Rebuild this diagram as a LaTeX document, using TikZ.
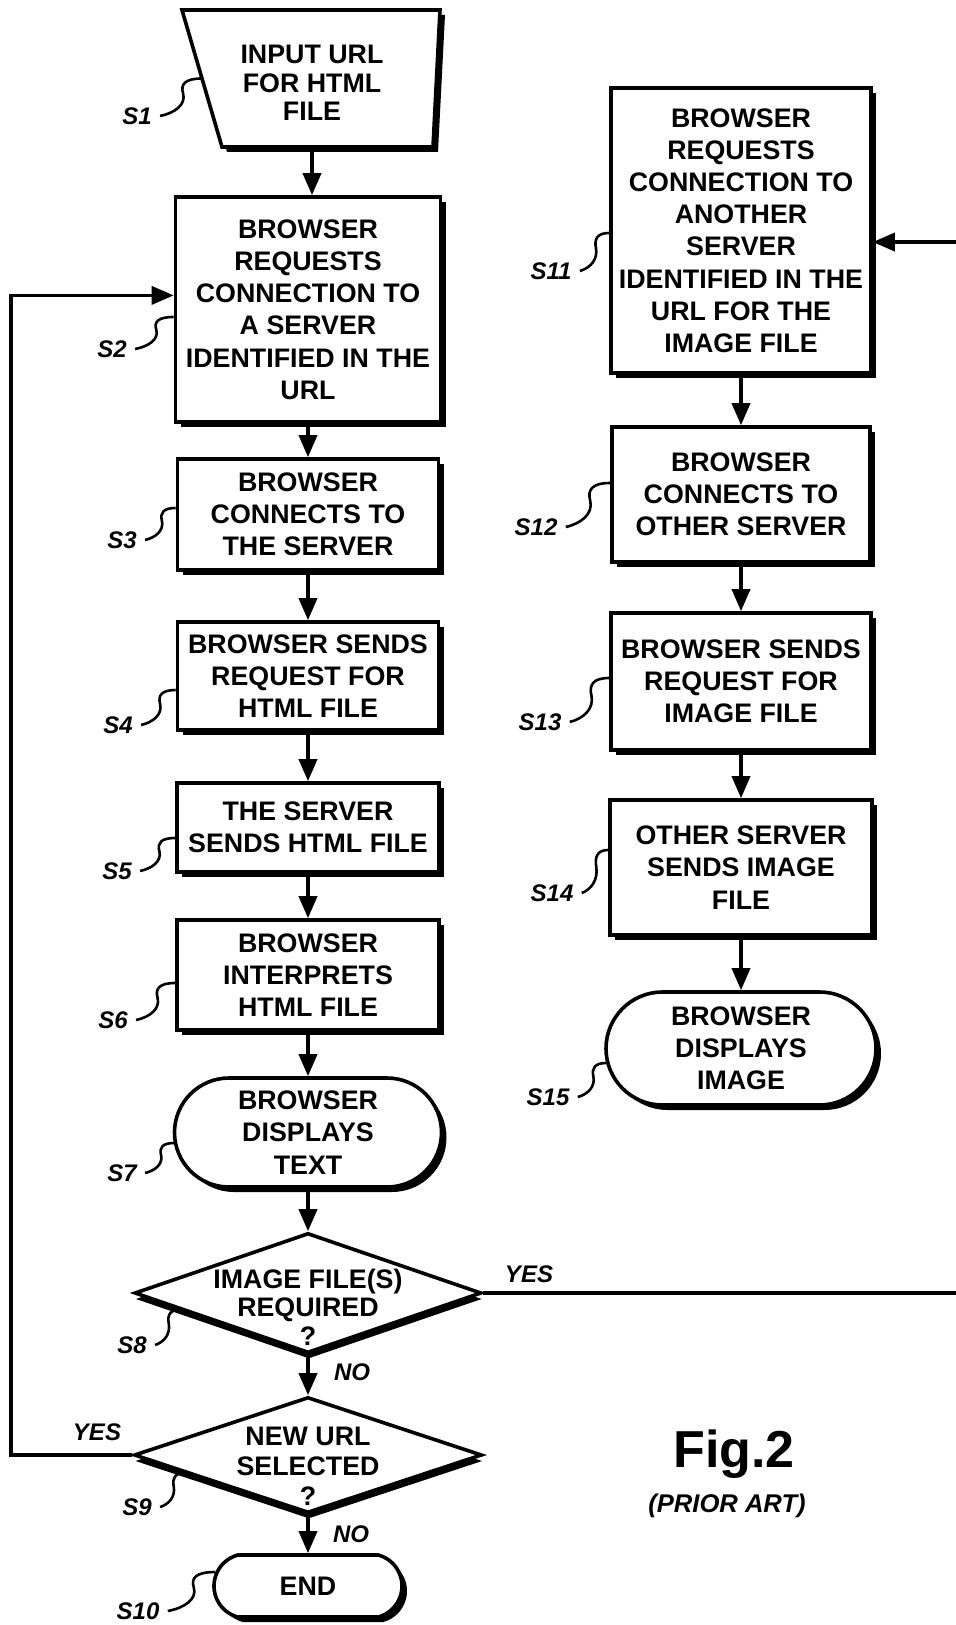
\documentclass[tikz,border=0pt]{standalone}
\usepackage{fontspec}
\setmainfont{Liberation Sans}
\usetikzlibrary{shapes.geometric,shapes.misc,shadows,arrows.meta,calc}

\newcommand\boxfont{\fontsize{13.4pt}{16.1pt}\selectfont\bfseries}
\newcommand\tagfont{\fontsize{12pt}{14pt}\selectfont\bfseries\itshape}

\tikzset{
  wh/.style 2 args={minimum width=#1*0.5pt, minimum height=#2*0.5pt},
  shade3d/.style={drop shadow={shadow xshift=2.5pt,shadow yshift=-2.5pt,opacity=1,fill=black}},
  outline/.style={draw=black, fill=white, line width=1.8pt, line join=miter},
  stepbox/.style={outline, shade3d, rectangle, align=center, inner sep=0pt, font=\boxfont},
  termbox/.style={outline, shade3d, rounded rectangle, align=center, inner sep=0pt, font=\boxfont},
  decision/.style={outline, diamond, inner sep=0pt,
    drop shadow={shadow xshift=0.4pt,shadow yshift=-3pt,opacity=1,fill=black}},
  steptext/.style={align=center, inner sep=0pt, font=\boxfont},
  tag/.style={inner xsep=4pt, inner ysep=0pt, font=\tagfont},
  flow/.style={line width=1.8pt, -{Triangle[length=11pt,width=9pt]}},
  lead/.style={line width=1.3pt},
}

% wavy lead line from a reference label to the part it names
\newcommand\leadline[2]{%
  \draw[lead] let \p1=(#1), \p2=(#2) in
  (\p1) .. controls (\x1+0.35*\x2-0.35*\x1, \y1+0.08*\y2-0.08*\y1)
           and (\x1+0.62*\x2-0.62*\x1, \y1+0.3*\y2-0.3*\y1)
        .. (\x1+0.55*\x2-0.55*\x1, \y1+0.6*\y2-0.6*\y1)
        .. controls (\x1+0.48*\x2-0.48*\x1, \y1+0.85*\y2-0.85*\y1)
           and (\x1+0.6*\x2-0.6*\x1, \y2)
        .. (\p2);}

\begin{document}
\begin{tikzpicture}[x=0.5pt,y=-0.5pt]
\useasboundingbox (0,0) rectangle (956,1625);

% ---- input step (trapezoid)
\coordinate (tl) at (182,10);
\coordinate (tr) at (440,10);
\coordinate (br) at (433,147);
\coordinate (bl) at (222,147);
\draw[outline,shade3d] (tl) -- (tr) -- (br) -- (bl) -- cycle;
\node[steptext, minimum height=68.5pt, font=\fontsize{13.4pt}{14.3pt}\selectfont\bfseries]
  (s1) at (312,78.5) {};
\node[steptext, font=\fontsize{13.4pt}{14.3pt}\selectfont\bfseries]
  (t1) at (312,83) {INPUT URL\\FOR HTML\\FILE};

% ---- main column
\node[stepbox, wh={265}{225}] (s2) at (308,309.5)
  {BROWSER\\REQUESTS\\CONNECTION TO\\A SERVER\\IDENTIFIED IN THE\\URL};
\node[stepbox, wh={261}{111}] (s3) at (308,514.5)
  {BROWSER\\CONNECTS TO\\THE SERVER};
\node[stepbox, wh={261}{108}] (s4) at (308,676)
  {BROWSER SENDS\\REQUEST FOR\\HTML FILE};
\node[stepbox, wh={262}{89}] (s5) at (308,827.5)
  {THE SERVER\\SENDS HTML FILE};
\node[stepbox, wh={262}{110}] (s6) at (308,975)
  {BROWSER\\INTERPRETS\\HTML FILE};
\node[termbox, wh={267}{109}] (s7) at (308,1132.5)
  {BROWSER\\DISPLAYS\\TEXT};
\node[decision, wh={347}{120}] (s8) at (308,1293) {};
\node[steptext, font=\fontsize{13.4pt}{14.3pt}\selectfont\bfseries]
  (t8) at (308,1307) {IMAGE FILE(S)\\REQUIRED\\?};
\node[decision, wh={348}{116}] (s9) at (308,1455) {};
\node[steptext, font=\fontsize{13.4pt}{15pt}\selectfont\bfseries]
  (t9) at (308,1466) {NEW URL\\SELECTED\\?};
\node[termbox, rounded rectangle arc length=150, wh={188}{62}] (s10) at (308,1586) {END};

% ---- image branch
\node[stepbox, wh={260}{285}] (s11) at (741,230.5)
  {BROWSER\\REQUESTS\\CONNECTION TO\\ANOTHER\\SERVER\\IDENTIFIED IN THE\\URL FOR THE\\IMAGE FILE};
\node[stepbox, wh={258}{135}] (s12) at (741,494.5)
  {BROWSER\\CONNECTS TO\\OTHER SERVER};
\node[stepbox, wh={260}{137}] (s13) at (741,681.5)
  {BROWSER SENDS\\REQUEST FOR\\IMAGE FILE};
\node[stepbox, wh={262}{135}] (s14) at (741,867.5)
  {OTHER SERVER\\SENDS IMAGE\\FILE};
\node[termbox, wh={270}{113}] (s15) at (741,1048.5)
  {BROWSER\\DISPLAYS\\IMAGE};

% ---- flow connectors
\draw[flow] (s1.south) -- (s1.south |- s2.north);
\draw[flow] (s2) -- (s3);
\draw[flow] (s3) -- (s4);
\draw[flow] (s4) -- (s5);
\draw[flow] (s5) -- (s6);
\draw[flow] (s6) -- (s7);
\draw[flow] (s7) -- (s8);
\draw[flow] (s8) -- (s9);
\draw[flow] (s9) -- (s10);
\draw[flow] (s11) -- (s12);
\draw[flow] (s12) -- (s13);
\draw[flow] (s13) -- (s14);
\draw[flow] (s14) -- (s15);

\coordinate (loopx) at (11,0);
\coordinate (rightx) at (962,0);
\draw[flow] (s9.west) -- (s9.west -| loopx) |- (s2.174);
\draw[flow] (s8.east) -- (s8.east -| rightx) |- (s11.-5);

% ---- branch labels
\node[tag] (y8) at (529,1274) {YES};
\node[tag] (n8) at (352,1372) {NO};
\node[tag] (y9) at (97,1432) {YES};
\node[tag] (n9) at (351,1534) {NO};

% ---- step reference labels
\node[tag] (l1) at (137,116) {S1};
\node[tag] (l2) at (112,349) {S2};
\node[tag] (l3) at (122,540) {S3};
\node[tag] (l4) at (118,725) {S4};
\node[tag] (l5) at (117,871) {S5};
\node[tag] (l6) at (113,1020) {S6};
\node[tag] (l7) at (122,1173) {S7};
\node[tag] (l8) at (132,1345) {S8};
\node[tag] (l9) at (137,1507) {S9};
\node[tag] (l10) at (138,1611) {S10};
\node[tag] (l11) at (551,271) {S11};
\node[tag] (l12) at (536,527) {S12};
\node[tag] (l13) at (540,722) {S13};
\node[tag] (l14) at (552,893) {S14};
\node[tag] (l15) at (548,1097) {S15};

\leadline{l1.east}{$(tl)!0.5!(bl)$}
\leadline{l2.east}{$(s2.west)+(0,7.5)$}
\leadline{l3.east}{$(s3.west)+(0,-6.5)$}
\leadline{l4.east}{$(s4.west)+(0,14)$}
\leadline{l5.east}{$(s5.west)+(0,10.5)$}
\leadline{l6.east}{$(s6.west)+(0,8)$}
\leadline{l7.east}{$(s7.west)+(1.5,10.5)$}
\leadline{l8.east}{$(s8.west)!0.27!(s8.south)$}
\leadline{l9.east}{$(s9.west)!0.3!(s9.south)$}
\leadline{l10.east}{$(s10.west)+(3,-14)$}
\leadline{l11.east}{$(s11.west)+(0,2.5)$}
\leadline{l12.east}{$(s12.west)+(0,-11.5)$}
\leadline{l13.east}{$(s13.west)+(0,-3.5)$}
\leadline{l14.east}{$(s14.west)+(0,-17.5)$}
\leadline{l15.east}{$(s15.west)+(2,14.5)$}

% ---- figure caption
\node[anchor=base, inner sep=0pt, font=\fontsize{26pt}{30pt}\selectfont\bfseries]
  (fig) at (734,1467) {Fig.2};
\node[anchor=base, inner sep=0pt, font=\fontsize{12.8pt}{15pt}\selectfont\bfseries\itshape]
  (prior) at (727,1512) {(PRIOR ART)};
\end{tikzpicture}
\end{document}
